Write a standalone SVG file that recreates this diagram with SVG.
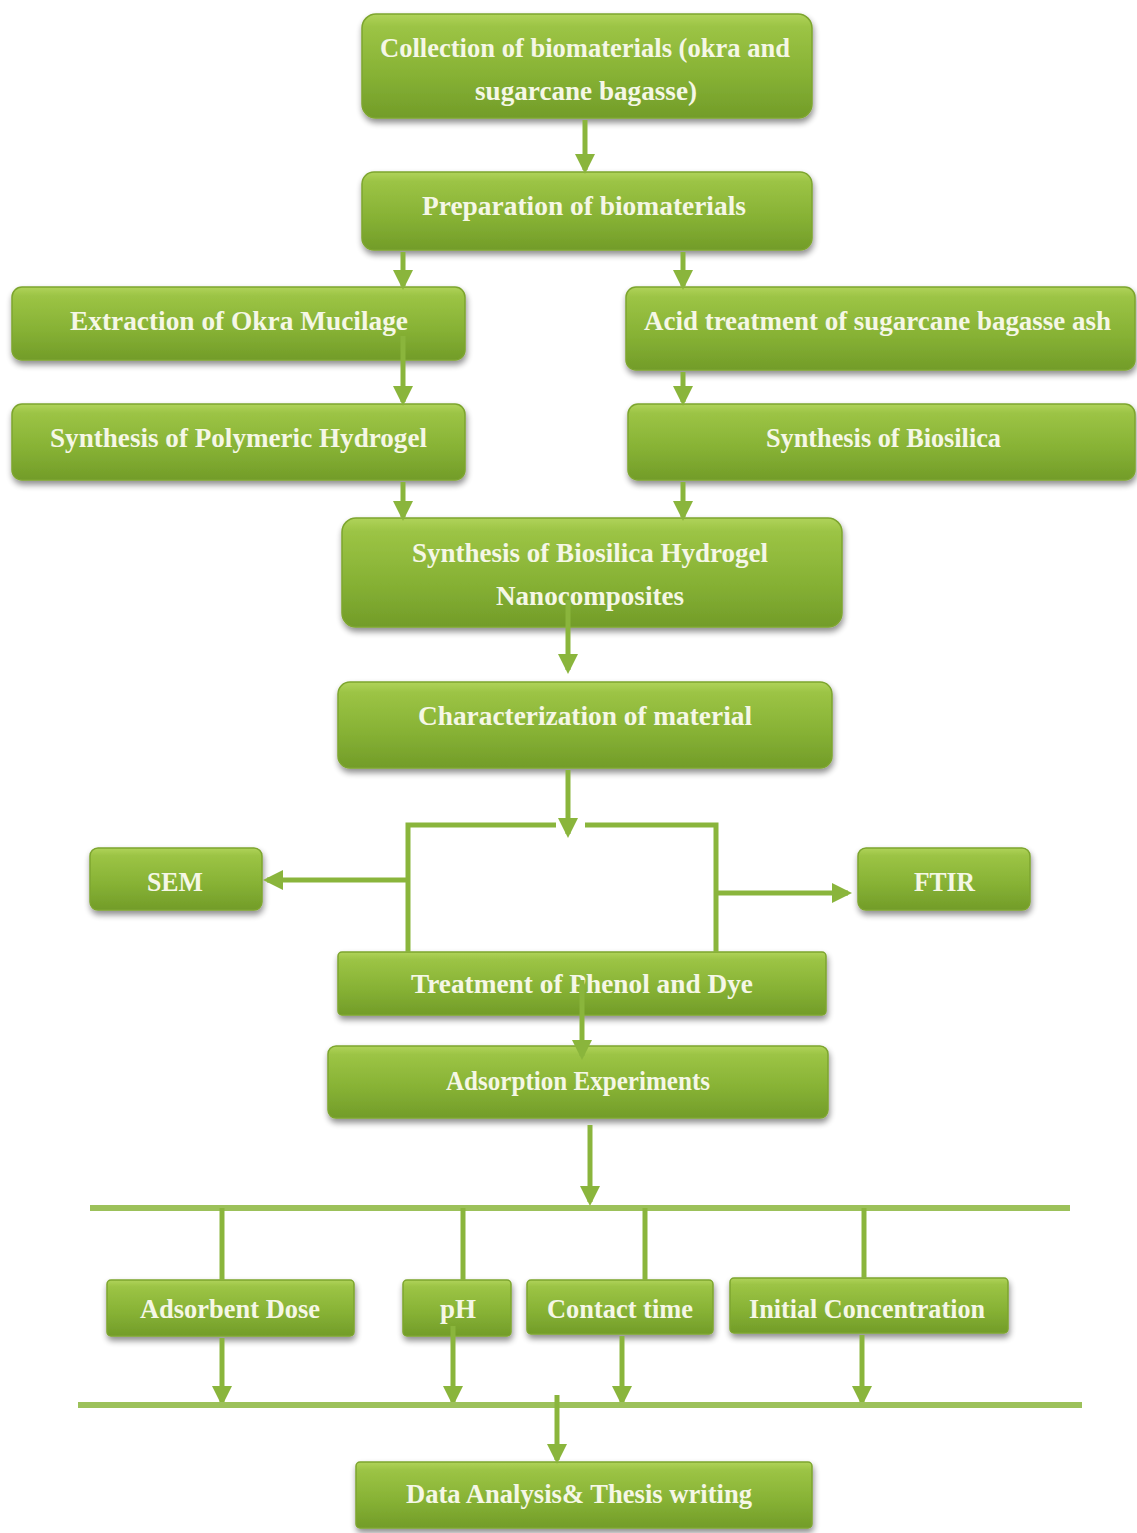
<svg xmlns="http://www.w3.org/2000/svg" width="1137" height="1533" viewBox="0 0 1137 1533">
<defs>
<linearGradient id="g" x1="0" y1="0" x2="0" y2="1">
<stop offset="0" stop-color="#b0d35a"/>
<stop offset="0.12" stop-color="#9cc445"/>
<stop offset="0.6" stop-color="#86b134"/>
<stop offset="1" stop-color="#729c29"/>
</linearGradient>
<filter id="sh" x="-10%" y="-20%" width="120%" height="150%">
<feGaussianBlur in="SourceAlpha" stdDeviation="3"/>
<feOffset dx="1" dy="4" result="b"/>
<feComponentTransfer><feFuncA type="linear" slope="0.45"/></feComponentTransfer>
<feMerge><feMergeNode/><feMergeNode in="SourceGraphic"/></feMerge>
</filter>
<marker id="ah" markerWidth="4" markerHeight="4" refX="3.2" refY="2" orient="auto" markerUnits="strokeWidth">
<path d="M0,0 L4,2 L0,4 Z" fill="#8ab53c"/>
</marker>
<style>
.box{fill:url(#g);stroke:#7da52f;stroke-width:1.5;filter:url(#sh)}
.t{font-family:"Liberation Serif","DejaVu Serif",serif;font-weight:bold;font-size:28px;fill:#f5f7e6;text-anchor:start}
.c{fill:none;stroke:#8ab53c;stroke-width:5}
.a{fill:none;stroke:#8ab53c;stroke-width:5;marker-end:url(#ah)}
.bus{fill:none;stroke:#9cc15a;stroke-width:6}
</style>
</defs>
<rect width="1137" height="1533" fill="#ffffff"/>

<g id="n1"><rect class="box" x="362" y="14" width="450" height="104" rx="14"/>
<text class="t" x="380" y="57" textLength="410" lengthAdjust="spacingAndGlyphs">Collection of biomaterials (okra and</text>
<text class="t" x="475" y="100" textLength="222" lengthAdjust="spacingAndGlyphs">sugarcane bagasse)</text></g>

<g id="n2"><rect class="box" x="362" y="172" width="450" height="78" rx="12"/>
<text class="t" x="422" y="215" textLength="324" lengthAdjust="spacingAndGlyphs">Preparation of biomaterials</text></g>

<g id="n3"><rect class="box" x="12" y="287" width="453" height="73" rx="10"/>
<text class="t" x="70" y="330" textLength="338" lengthAdjust="spacingAndGlyphs">Extraction of Okra Mucilage</text></g>

<g id="n4"><rect class="box" x="626" y="287" width="509" height="83" rx="10"/>
<text class="t" x="644" y="330" textLength="467" lengthAdjust="spacingAndGlyphs">Acid treatment of sugarcane bagasse ash</text></g>

<g id="n5"><rect class="box" x="12" y="404" width="453" height="76" rx="10"/>
<text class="t" x="50" y="447" textLength="377" lengthAdjust="spacingAndGlyphs">Synthesis of Polymeric Hydrogel</text></g>

<g id="n6"><rect class="box" x="628" y="404" width="507" height="76" rx="10"/>
<text class="t" x="766" y="447" textLength="235" lengthAdjust="spacingAndGlyphs">Synthesis of Biosilica</text></g>

<g id="n7"><rect class="box" x="342" y="518" width="500" height="109" rx="14"/>
<text class="t" x="412" y="562" textLength="356" lengthAdjust="spacingAndGlyphs">Synthesis of Biosilica Hydrogel</text>
<text class="t" x="496" y="605" textLength="188" lengthAdjust="spacingAndGlyphs">Nanocomposites</text></g>

<g id="n8"><rect class="box" x="338" y="682" width="494" height="86" rx="12"/>
<text class="t" x="418" y="725" textLength="334" lengthAdjust="spacingAndGlyphs">Characterization of material</text></g>

<g id="n9"><rect class="box" x="90" y="848" width="172" height="62" rx="8"/>
<text class="t" x="147" y="891" textLength="56" lengthAdjust="spacingAndGlyphs">SEM</text></g>

<g id="n10"><rect class="box" x="858" y="848" width="172" height="62" rx="8"/>
<text class="t" x="914" y="891" textLength="61" lengthAdjust="spacingAndGlyphs">FTIR</text></g>

<g id="n11"><rect class="box" x="338" y="952" width="488" height="63" rx="4"/>
<text class="t" x="411" y="993" textLength="342" lengthAdjust="spacingAndGlyphs">Treatment of Phenol and Dye</text></g>

<g id="n12"><rect class="box" x="328" y="1046" width="500" height="72" rx="8"/>
<text class="t" x="446" y="1090" textLength="264" lengthAdjust="spacingAndGlyphs">Adsorption Experiments</text></g>

<g id="n13"><rect class="box" x="107" y="1280" width="247" height="56" rx="4"/>
<text class="t" x="140" y="1318" textLength="180" lengthAdjust="spacingAndGlyphs">Adsorbent Dose</text></g>

<g id="n14"><rect class="box" x="403" y="1280" width="108" height="56" rx="4"/>
<text class="t" x="440" y="1318" textLength="36" lengthAdjust="spacingAndGlyphs">pH</text></g>

<g id="n15"><rect class="box" x="527" y="1280" width="186" height="54" rx="4"/>
<text class="t" x="547" y="1318" textLength="146" lengthAdjust="spacingAndGlyphs">Contact time</text></g>

<g id="n16"><rect class="box" x="730" y="1278" width="278" height="55" rx="4"/>
<text class="t" x="749" y="1318" textLength="236" lengthAdjust="spacingAndGlyphs">Initial Concentration</text></g>

<g id="n17"><rect class="box" x="356" y="1462" width="456" height="66" rx="4"/>
<text class="t" x="406" y="1503" textLength="346" lengthAdjust="spacingAndGlyphs">Data Analysis&amp; Thesis writing</text></g>

<g id="connectors">
<line class="a" x1="585" y1="120" x2="585" y2="170"/>
<line class="a" x1="403" y1="252" x2="403" y2="286"/>
<line class="a" x1="683" y1="252" x2="683" y2="286"/>
<line class="a" x1="403" y1="336" x2="403" y2="402"/>
<line class="a" x1="683" y1="372" x2="683" y2="402"/>
<line class="a" x1="403" y1="482" x2="403" y2="517"/>
<line class="a" x1="683" y1="482" x2="683" y2="517"/>
<line class="a" x1="568" y1="600" x2="568" y2="670"/>
<line class="a" x1="568" y1="770" x2="568" y2="834"/>
<polyline class="c" points="408,952 408,825 556,825"/>
<polyline class="c" points="585,825 716,825 716,952"/>
<line class="a" x1="408" y1="880" x2="267" y2="880"/>
<line class="a" x1="716" y1="893" x2="848" y2="893"/>
<line class="a" x1="582" y1="980" x2="582" y2="1056"/>
<line class="a" x1="590" y1="1125" x2="590" y2="1202"/>
<line class="bus" x1="90" y1="1208" x2="1070" y2="1208"/>
<line class="c" x1="222" y1="1208" x2="222" y2="1280"/>
<line class="c" x1="463" y1="1208" x2="463" y2="1280"/>
<line class="c" x1="645" y1="1208" x2="645" y2="1280"/>
<line class="c" x1="864" y1="1208" x2="864" y2="1278"/>
<line class="a" x1="222" y1="1338" x2="222" y2="1402"/>
<line class="a" x1="453" y1="1326" x2="453" y2="1402"/>
<line class="a" x1="622" y1="1336" x2="622" y2="1402"/>
<line class="a" x1="862" y1="1335" x2="862" y2="1402"/>
<line class="bus" x1="78" y1="1405" x2="1082" y2="1405"/>
<line class="a" x1="557" y1="1395" x2="557" y2="1460"/>
</g>
</svg>
